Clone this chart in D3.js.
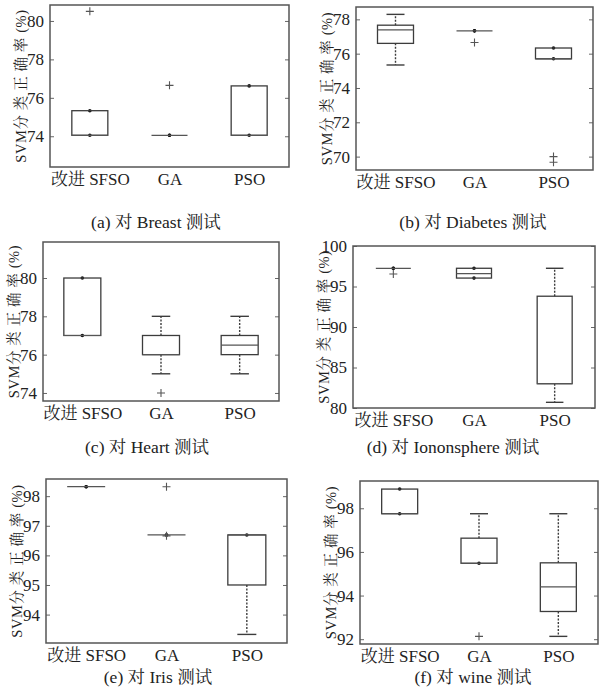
<!DOCTYPE html>
<html>
<head>
<meta charset="utf-8">
<script src="https://cdn.jsdelivr.net/npm/d3@7"></script>
<style>
  body { margin: 0; background: #fff; }
  svg text { font-family: "Liberation Serif", "Noto Serif CJK SC", "Noto Sans CJK SC", serif; fill: #222; }
</style>
</head>
<body>
<svg id="chart" width="604" height="692"></svg>
<script>
// categories (same for every panel)
const categories = ['改进 SFSO', 'GA', 'PSO'];
const yLabel = 'SVM分 类 正 确 率 (%)';

// box stats per panel: [whiskerLow, q1, median, q3, whiskerHigh, outliers]
const breastBoxes = [
  [74.05, 74.05, 74.05, 75.33, 75.33, [80.5]],
  [74.05, 74.05, 74.05, 74.05, 74.05, [76.65]],
  [74.05, 74.05, 74.05, 76.62, 76.62, []]
];
const diabetesBoxes = [
  [75.34, 76.6, 77.39, 77.66, 78.29, []],
  [77.33, 77.33, 77.33, 77.33, 77.33, [76.65]],
  [75.7, 75.7, 75.7, 76.33, 76.33, [70.0, 69.67]]
];
const heartBoxes = [
  [77, 77, 77, 80, 80, []],
  [75, 76, 76, 77, 78, [74]],
  [75, 76, 76.5, 77, 78, []]
];
const ionosphereBoxes = [
  [97.25, 97.25, 97.25, 97.25, 97.25, [96.55]],
  [96.04, 96.04, 96.6, 97.25, 97.25, []],
  [80.7, 83.0, 83.0, 93.8, 97.25, []]
];
const irisBoxes = [
  [98.32, 98.32, 98.32, 98.32, 98.32, []],
  [96.69, 96.69, 96.69, 96.69, 96.69, [96.66, 98.32]],
  [93.33, 95.0, 96.69, 96.69, 96.69, []]
];
const wineBoxes = [
  [97.75, 97.75, 97.75, 98.88, 98.88, []],
  [95.48, 95.48, 95.48, 96.63, 97.75, [92.13]],
  [92.13, 93.27, 94.4, 95.5, 97.75, []]
];

// y tick labels per panel
const breastTicks = [74, 76, 78, 80];
const diabetesTicks = [70, 72, 74, 76, 78];
const heartTicks = [74, 76, 78, 80];
const ionosphereTicks = [80, 85, 90, 95, 100];
const irisTicks = [94, 95, 96, 97, 98];
const wineTicks = [92, 94, 96, 98];

const captions = ['(a) 对 Breast 测试', '(b) 对 Diabetes 测试', '(c) 对 Heart 测试',
                  '(d) 对 Iononsphere 测试', '(e) 对 Iris 测试', '(f) 对 wine 测试'];

// layout: frame box, y domain, box width, caption position
const panels = [
  { boxes: breastBoxes, ticks: breastTicks, dom: [72.4, 80.83], l: 50, r: 289, t: 5, b: 167, bw: 36, cx: 156, cy: 228 },
  { boxes: diabetesBoxes, ticks: diabetesTicks, dom: [69.22, 78.72], l: 356, r: 593, t: 7, b: 170, bw: 36, cx: 473, cy: 228 },
  { boxes: heartBoxes, ticks: heartTicks, dom: [73.58, 81.88], l: 43, r: 279, t: 242, b: 401, bw: 37, cx: 147, cy: 453 },
  { boxes: ionosphereBoxes, ticks: ionosphereTicks, dom: [80, 100], l: 353, r: 595, t: 246, b: 408, bw: 35, cx: 453, cy: 453 },
  { boxes: irisBoxes, ticks: irisTicks, dom: [93.04, 98.58], l: 46, r: 287, t: 479, b: 643, bw: 38, cx: 158, cy: 683 },
  { boxes: wineBoxes, ticks: wineTicks, dom: [91.78, 99.25], l: 360, r: 598, t: 481, b: 644, bw: 36, cx: 473, cy: 683 }
];

const svg = d3.select('#chart');
const ink = '#3c3c3c';

panels.forEach((p, pi) => {
  const g = svg.append('g');
  const x = d3.scaleLinear().domain([0.5, 3.5]).range([p.l, p.r]);
  const y = d3.scaleLinear().domain(p.dom).range([p.b, p.t]);

  // left axis with inward ticks
  const left = g.append('g').attr('transform', `translate(${p.l},0)`)
    .call(d3.axisLeft(y).tickValues(p.ticks).tickSizeInner(-4).tickSizeOuter(0).tickPadding(6).tickFormat(d3.format('d')));
  left.select('.domain').remove();
  left.selectAll('line').attr('stroke', '#666');
  left.selectAll('text').attr('font-size', 17).attr('fill', '#222');

  // right side mirrored ticks
  const right = g.append('g').attr('transform', `translate(${p.r},0)`)
    .call(d3.axisRight(y).tickValues(p.ticks).tickSizeInner(-4).tickSizeOuter(0).tickFormat(''));
  right.select('.domain').remove();
  right.selectAll('line').attr('stroke', '#666');

  // category labels
  const bottom = g.append('g').attr('transform', `translate(0,${p.b})`)
    .call(d3.axisBottom(x).tickValues([1, 2, 3]).tickSize(0).tickPadding(6).tickFormat((d, i) => categories[i]));
  bottom.select('.domain').remove();
  bottom.selectAll('text').attr('font-size', 17).attr('fill', '#222');

  // frame
  g.append('rect')
    .attr('x', p.l).attr('y', p.t).attr('width', p.r - p.l).attr('height', p.b - p.t)
    .attr('fill', 'none').attr('stroke', '#555').attr('stroke-width', 1.5);

  // y label
  g.append('text')
    .attr('transform', `translate(${p.l - 27},${(p.t + p.b) / 2}) rotate(-90)`)
    .attr('text-anchor', 'middle').attr('dominant-baseline', 'middle')
    .attr('font-size', 14.5).attr('letter-spacing', 0.6).text(yLabel);

  // boxes
  p.boxes.forEach((s, i) => {
    const [lo, q1, med, q3, hi, outs] = s;
    const cx = x(i + 1);
    const hw = p.bw / 2;
    const bg = g.append('g');

    // whiskers: a dot when the whisker has zero length
    [[lo, q1], [hi, q3]].forEach(([end, edge]) => {
      if (Math.abs(end - edge) < 1e-6) {
        bg.append('circle').attr('cx', cx).attr('cy', y(end)).attr('r', 1.8).attr('fill', '#111');
      } else {
        bg.append('line')
          .attr('x1', cx).attr('x2', cx).attr('y1', y(edge)).attr('y2', y(end))
          .attr('stroke', ink).attr('stroke-width', 1.4).attr('stroke-dasharray', '2,1.5');
        bg.append('line')
          .attr('x1', cx - hw / 2).attr('x2', cx + hw / 2).attr('y1', y(end)).attr('y2', y(end))
          .attr('stroke', ink).attr('stroke-width', 1.4);
      }
    });

    // box
    bg.append('rect')
      .attr('x', cx - hw).attr('y', y(q3)).attr('width', p.bw).attr('height', Math.max(0, y(q1) - y(q3)))
      .attr('fill', 'none').attr('stroke', ink).attr('stroke-width', 1.3);

    // median
    bg.append('line')
      .attr('x1', cx - hw).attr('x2', cx + hw).attr('y1', y(med)).attr('y2', y(med))
      .attr('stroke', '#555').attr('stroke-width', 1.2);

    // outliers
    outs.forEach(o => {
      bg.append('path')
        .attr('d', `M${cx - 4},${y(o)}H${cx + 4}M${cx},${y(o) - 4}V${y(o) + 4}`)
        .attr('stroke', '#555').attr('stroke-width', 1.1).attr('fill', 'none');
    });
  });

  // caption
  svg.append('text')
    .attr('x', p.cx).attr('y', p.cy)
    .attr('text-anchor', 'middle').attr('font-size', 17.5)
    .text(captions[pi]);
});
</script>
</body>
</html>
